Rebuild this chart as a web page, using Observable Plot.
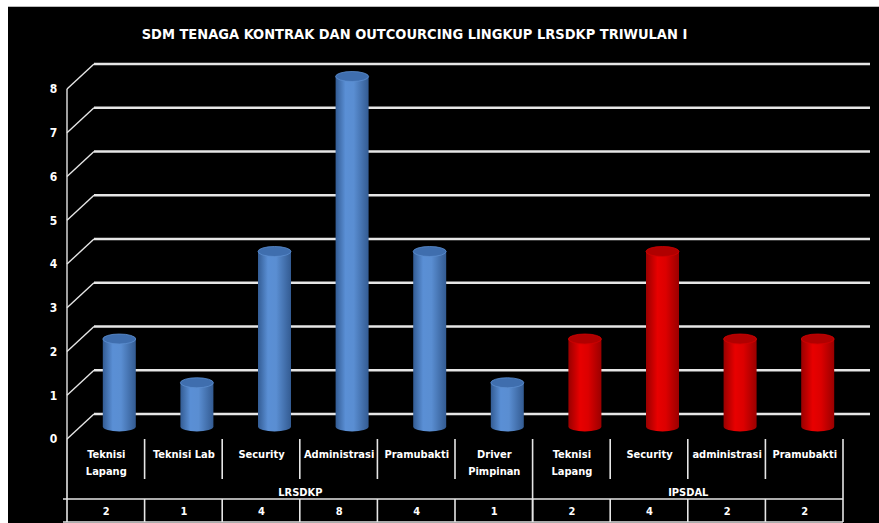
<!DOCTYPE html>
<html>
<head>
<meta charset="utf-8">
<script src="https://cdn.jsdelivr.net/npm/d3@7"></script>
<script src="https://cdn.jsdelivr.net/npm/@observablehq/plot@0.6"></script>
<style>
  html, body { margin: 0; padding: 0; background: #ffffff; }
  #frame { position: absolute; left: 8px; top: 6px; width: 871px; height: 517px; background: #000; border-top: 1px solid #bbb; box-sizing: border-box; }
  #title { position: absolute; left: 0; top: 0; width: 813px; height: 50px; line-height: 54px; text-align: center; color: #fff;
           font-family: "Liberation Sans Narrow", "DejaVu Sans Condensed", "Roboto Condensed", sans-serif; font-weight: bold; font-size: 14.5px; }
  #chart { position: absolute; left: 0; top: 50px; }
</style>
</head>
<body>
<div id="frame">
  <div id="title">SDM TENAGA KONTRAK DAN OUTCOURCING LINGKUP LRSDKP TRIWULAN I</div>
  <div id="chart"></div>
</div>
<script>
// ---- data ----
const categories = ["Teknisi\nLapang", "Teknisi Lab", "Security", "Administrasi", "Pramubakti", "Driver\nPimpinan",
                    "Teknisi\nLapang", "Security", "administrasi", "Pramubakti"];
const values = [2, 1, 4, 8, 4, 1, 2, 4, 2, 2];
const groups = ["LRSDKP", "LRSDKP", "LRSDKP", "LRSDKP", "LRSDKP", "LRSDKP", "IPSDAL", "IPSDAL", "IPSDAL", "IPSDAL"];
const groupNames = ["LRSDKP", "IPSDAL"];
const yTicks = [0, 1, 2, 3, 4, 5, 6, 7, 8];

// ---- layout constants ----
const FONT = '"Liberation Sans Narrow", "DejaVu Sans Condensed", "Roboto Condensed", sans-serif';
const DEPTH_X = 27, DEPTH_Y = -25;   // pixel offset of the back wall
const idx = d3.range(categories.length);
const n = categories.length;

const colorsByGroup = {
  LRSDKP: {id: "gBlue", stops: [["0%", "#335c94"], ["30%", "#5a8fd5"], ["55%", "#5a8ed2"], ["100%", "#335b92"]], top: "#3f6eae", rim: "#5c8ecf"},
  IPSDAL: {id: "gRed", stops: [["0%", "#990000"], ["35%", "#e80000"], ["60%", "#dc0000"], ["100%", "#9a0000"]], top: "#b00000", rim: "#d00000"}
};

// back-wall gridlines + side diagonals + front axis
function wallMark(index, scales) {
  const g = d3.create("svg:g");
  const x0 = scales.x(0), x1 = scales.x(n);
  for (const t of yTicks) {
    const y = scales.y(t);
    g.append("line").attr("x1", x0 + DEPTH_X).attr("x2", x1 + DEPTH_X).attr("y1", y + DEPTH_Y).attr("y2", y + DEPTH_Y)
      .attr("stroke", "#e6e6e6").attr("stroke-width", 2.6);
    g.append("line").attr("x1", x0).attr("x2", x0 + DEPTH_X).attr("y1", y).attr("y2", y + DEPTH_Y)
      .attr("stroke", "#e6e6e6").attr("stroke-width", 1.4);
  }
  g.append("line").attr("x1", x0).attr("x2", x0).attr("y1", scales.y(0)).attr("y2", scales.y(yTicks[yTicks.length - 1]))
    .attr("stroke", "#e6e6e6").attr("stroke-width", 1.4);
  return g.node();
}

// cylinders
function cylinderMark(index, scales) {
  const g = d3.create("svg:g");
  const defs = g.append("defs");
  for (const k of Object.keys(colorsByGroup)) {
    const c = colorsByGroup[k];
    const lg = defs.append("linearGradient").attr("id", c.id).attr("x1", "0").attr("x2", "1").attr("y1", "0").attr("y2", "0");
    for (const [o, col] of c.stops) lg.append("stop").attr("offset", o).attr("stop-color", col);
  }
  const rx = 16.5, ry = 5;
  for (const i of idx) {
    const c = colorsByGroup[groups[i]];
    const cx = scales.x(i + 0.5) + DEPTH_X / 2;
    const yb = scales.y(0) + DEPTH_Y / 2;
    const yt = scales.y(values[i]) + DEPTH_Y / 2;
    const xl = cx - rx, xr = cx + rx;
    g.append("path")
      .attr("d", `M${xl},${yt} L${xl},${yb} A${rx},${ry} 0 0 0 ${xr},${yb} L${xr},${yt} Z`)
      .attr("fill", `url(#${c.id})`);
    g.append("ellipse").attr("cx", cx).attr("cy", yt).attr("rx", rx).attr("ry", ry)
      .attr("fill", c.top).attr("stroke", c.rim).attr("stroke-width", 0.8);
  }
  return g.node();
}

// data table lines below the plot
function tableMark(index, scales) {
  const g = d3.create("svg:g").attr("stroke", "#e6e6e6").attr("stroke-width", 1.6);
  const y0 = scales.y(0);
  const rowTop = y0, labelBottom = y0 + 40, valTop = y0 + 60, valBottom = y0 + 83;
  const xs = d3.range(n + 1).map(k => scales.x(k));
  g.append("line").attr("x1", xs[0]).attr("x2", xs[0]).attr("y1", rowTop).attr("y2", valBottom);
  g.append("line").attr("x1", xs[n]).attr("x2", xs[n]).attr("y1", rowTop).attr("y2", valBottom);
  for (let k = 1; k < n; k++) {
    const boundary = groups[k] !== groups[k - 1];
    g.append("line").attr("x1", xs[k]).attr("x2", xs[k]).attr("y1", rowTop).attr("y2", boundary ? valBottom : labelBottom);
    g.append("line").attr("x1", xs[k]).attr("x2", xs[k]).attr("y1", valTop).attr("y2", valBottom);
  }
  g.append("line").attr("x1", xs[0] - 4).attr("x2", xs[n]).attr("y1", valTop).attr("y2", valTop);
  g.append("line").attr("x1", xs[0] - 4).attr("x2", xs[n]).attr("y1", valBottom).attr("y2", valBottom);
  return g.node();
}

const groupCenters = groupNames.map(gn => {
  const ii = idx.filter(i => groups[i] === gn);
  return {name: gn, x: (d3.min(ii) + d3.max(ii) + 1) / 2};
});

const chart = Plot.plot({
  width: 871,
  height: 467,
  margin: 0,
  style: {background: "#000", color: "#fff", fontFamily: FONT, fontWeight: "bold", fontSize: "11px", overflow: "visible"},
  x: {domain: [0, n], range: [59, 835], axis: null},
  y: {domain: [0, 8], range: [382, 32], axis: null},
  marks: [
    wallMark,
    cylinderMark,
    tableMark,
    Plot.text(yTicks, {x: 0, y: d => d, text: d => String(d), dx: -14, fill: "#fff", fontSize: 12}),
    Plot.text(idx, {x: i => i + 0.5, y: 0, text: i => categories[i], dy: 7, lineAnchor: "top", lineHeight: 1.5, fill: "#fff", fontSize: 11}),
    Plot.text(groupCenters, {x: "x", y: 0, text: "name", dy: 53, fill: "#fff", fontSize: 11}),
    Plot.text(idx, {x: i => i + 0.5, y: 0, text: i => String(values[i]), dy: 72, fill: "#fff", fontSize: 11})
  ]
});
document.getElementById("chart").appendChild(chart);
</script>
</body>
</html>
